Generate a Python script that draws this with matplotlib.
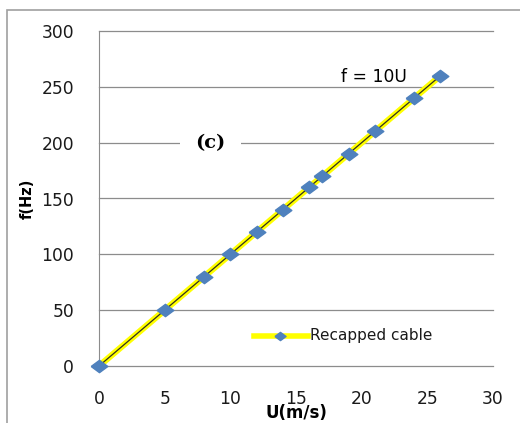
import matplotlib.pyplot as plt
from matplotlib.patches import Rectangle

# data
u = [0, 5, 8, 10, 12, 14, 16, 17, 19, 21, 24, 26]
f = [0, 50, 80, 100, 120, 140, 160, 170, 190, 210, 240, 260]
x_ticks = [0, 5, 10, 15, 20, 25, 30]
y_ticks = [0, 50, 100, 150, 200, 250, 300]

plt.rcParams['font.family'] = ['DejaVu Sans']

# wide diamond (the original picture is stretched horizontally)
diamond = [(-1.35, 0), (0, 1), (1.35, 0), (0, -1), (-1.35, 0)]
blue = '#4f81bd'

fig = plt.figure(figsize=(5.2, 4.23), dpi=100)
ax = fig.add_axes([99 / 520, 1 - 366 / 423, 394 / 520, 335 / 423])

# outer chart border (cropped on right / bottom)
fig.patches.append(Rectangle((7 / 520, -0.1), 1.2, 1 - 10 / 423 + 0.1,
                             transform=fig.transFigure, fill=False,
                             edgecolor='#a0a0a0', linewidth=1.2))

for y in y_ticks:
    ax.axhline(y, color='#8c8c8c', linewidth=0.9, zorder=1, clip_on=False)

# yellow line with thin dark core, blue diamonds
ax.plot(u, f, color='#ffff00', linewidth=4.5, zorder=2, solid_capstyle='butt')
ax.plot(u, f, color='#303020', linewidth=0.9, zorder=3)
ax.plot(u, f, linestyle='none', marker=diamond, markersize=12,
        color=blue, markeredgecolor=blue, zorder=4, clip_on=False)

ax.set_xlim(0, 30)
ax.set_ylim(0, 300)
ax.set_xticks(x_ticks)
ax.set_yticks(y_ticks)
ax.tick_params(length=0, labelsize=12.3, colors='#1a1a1a')
ax.tick_params(axis='x', pad=17)
ax.tick_params(axis='y', pad=18)
for s in ['top', 'right', 'bottom']:
    ax.spines[s].set_visible(False)
ax.spines['left'].set_color('#8c8c8c')

ax.set_xlabel('U(m/s)', fontsize=12, fontweight='bold')
ax.xaxis.set_label_coords(0.5, -0.113)
ax.set_ylabel('f(Hz)', fontsize=10.5, fontweight='bold', va='center')
ax.yaxis.set_label_coords(-0.183, 0.5)

ax.text(8.5, 200, '(c)', family='DejaVu Serif', fontweight='bold', fontsize=14,
        ha='center', va='center', zorder=5,
        bbox=dict(facecolor='white', edgecolor='none', pad=11))
ax.text(20.9, 259, 'f = 10U', fontsize=12.3, ha='center', va='center')

# legend drawn by hand in data space
ax.plot([11.8, 15.9], [27, 27], color='#ffff00', linewidth=4, clip_on=False)
ax.plot([13.8], [27], marker=diamond, markersize=8, color=blue, linestyle='none')
ax.text(16.1, 27, 'Recapped cable', fontsize=11, va='center', color='#1a1a1a')

fig.savefig('out.png', dpi=100)
